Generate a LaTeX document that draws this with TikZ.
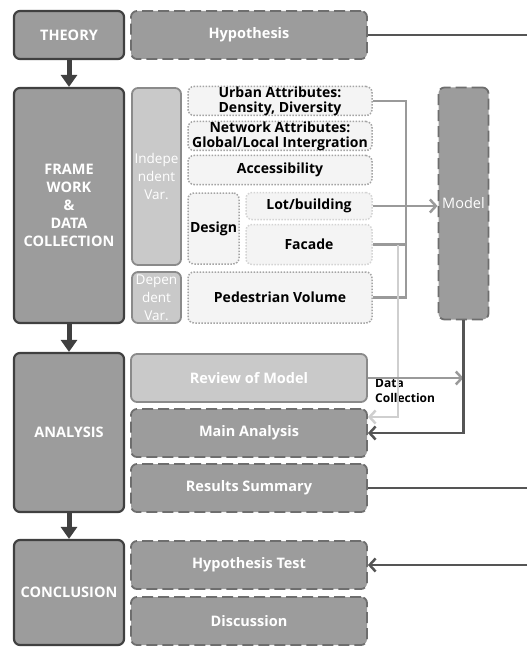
\documentclass[tikz,border=0pt]{standalone}
\usepackage{fontspec}
\setmainfont{Open Sans}
\usetikzlibrary{arrows.meta}
\definecolor{boxfill}{HTML}{9C9C9C}
\definecolor{varfill}{HTML}{C9C9C9}
\definecolor{attrfill}{HTML}{F4F4F4}
\definecolor{edgedark}{HTML}{404040}
\definecolor{edgemid}{HTML}{6E6E6E}
\definecolor{edgevar}{HTML}{8A8A8A}
\definecolor{dotgray}{HTML}{A4A4A4}
\definecolor{dotlight}{HTML}{D4D4D4}
\definecolor{linkdark}{HTML}{555555}
\definecolor{linkgray}{HTML}{9A9A9A}
\definecolor{linklight}{HTML}{CFCFCF}
\tikzset{
  stage/.style={draw=edgedark, line width=2.2pt, fill=boxfill, rounded corners=6pt,
    text=white, font=\bfseries\fontsize{14.5}{18}\selectfont, align=center, inner sep=0pt},
  task/.style={draw=edgemid, line width=1.8pt, dash pattern=on 11pt off 5pt, fill=boxfill,
    rounded corners=6pt, text=white, font=\bfseries\fontsize{14.5}{18}\selectfont, inner sep=0pt},
  varbox/.style={draw=edgevar, line width=1.8pt, fill=varfill, rounded corners=6pt,
    text=white, font=\fontsize{13.5}{18}\selectfont, align=center, inner sep=0pt},
  attr/.style={draw=dotgray, line width=1.5pt, dash pattern=on 1.5pt off 1.5pt, fill=attrfill,
    rounded corners=6pt, font=\bfseries\fontsize{14}{15}\selectfont, align=center, inner sep=0pt},
  phase/.style={-{Triangle[width=16pt,length=12pt]}, line width=5pt, draw=edgedark},
  feed/.style={line width=2.5pt, draw=linkgray},
  link/.style={line width=2.5pt, draw=linkdark},
  barb/.style={-{Straight Barb[length=6pt,width=13pt,line width=2.5pt]}}
}
\begin{document}
\begin{tikzpicture}[x=1pt,y=-1pt]
\useasboundingbox (0,0) rectangle (527,647);
\node[stage, minimum width=110, minimum height=48] (theory) at (69,35) {THEORY};
\node[task, minimum width=236, minimum height=48] (hypo) at (249,35) {Hypothesis};
\node[stage, minimum width=110, minimum height=235] (frame) at (69,205.5) {FRAME\\WORK\\\&\\DATA\\COLLECTION};
\node[varbox, minimum width=49, minimum height=177] (indep) at (156.5,176.5) {Indepe\\ndent\\Var.};
\node[varbox, minimum width=49, minimum height=51] (dep) at (156.5,297.5) {Depen\\dent\\Var.};
\node[attr, minimum width=184, minimum height=29] (urban) at (280,101) {Urban Attributes:\\Density, Diversity};
\node[attr, minimum width=184, minimum height=29] (network) at (280,136) {Network Attributes:\\Global/Local Intergration};
\node[attr, minimum width=184, minimum height=29] (access) at (280,170) {Accessibility};
\node[attr, minimum width=51, minimum height=71] (design) at (213.5,228.5) {Design};
\node[attr, draw=dotlight, minimum width=126, minimum height=27] (lot) at (309,206) {Lot/building};
\node[attr, draw=dotlight, minimum width=126, minimum height=40] (facade) at (309,244.5) {Facade};
\node[attr, minimum width=184, minimum height=51] (pedvol) at (280,297.5) {Pedestrian Volume};
\node[task, font=\fontsize{14.5}{18}\selectfont, minimum width=50, minimum height=232] (model) at (463.5,203.5) {Model};
\node[stage, minimum width=110, minimum height=159] (analysis) at (69,432.5) {ANALYSIS};
\node[varbox, font=\bfseries\fontsize{14.5}{18}\selectfont, minimum width=236, minimum height=48] (review) at (249,378) {Review of Model};
\node[task, minimum width=236, minimum height=48] (main) at (249,433) {Main Analysis};
\node[task, minimum width=236, minimum height=48] (results) at (249,488) {Results Summary};
\node[stage, minimum width=110, minimum height=105] (conclusion) at (69,592.5) {CONCLUSION};
\node[task, minimum width=236, minimum height=48] (hypotest) at (249,565) {Hypothesis Test};
\node[task, minimum width=236, minimum height=48] (discussion) at (249,621) {Discussion};
\node[anchor=north west, align=left, inner sep=0pt, font=\bfseries\fontsize{12}{15}\selectfont] (datacoll) at (375,379) {Data\\Collection};
\coordinate (busx) at (406,0);
\coordinate (tapx) at (398,0);
\coordinate (edge) at (527,0);
\draw[phase] (theory) -- (frame);
\draw[phase] (frame) -- (analysis);
\draw[phase] (analysis) -- (conclusion);
\draw[feed] (urban.east) -- (urban.east -| busx) |- (pedvol.east);
\draw[feed] (facade.east) -- (facade.east -| busx);
\draw[feed, barb] (lot.east) -- (lot.east -| model.west);
\draw[feed, draw=linklight, barb] (facade.east -| tapx) |- ([yshift=16pt]main.east);
\draw[feed, barb] (review.east) -- (review.east -| model.south);
\draw[link, barb] (model.south) |- (main.east);
\draw[link] (hypo.east) -- (hypo.east -| edge);
\draw[link] (results.east) -- (results.east -| edge);
\draw[link, barb] (hypotest.east -| edge) -- (hypotest.east);
\end{tikzpicture}
\end{document}
